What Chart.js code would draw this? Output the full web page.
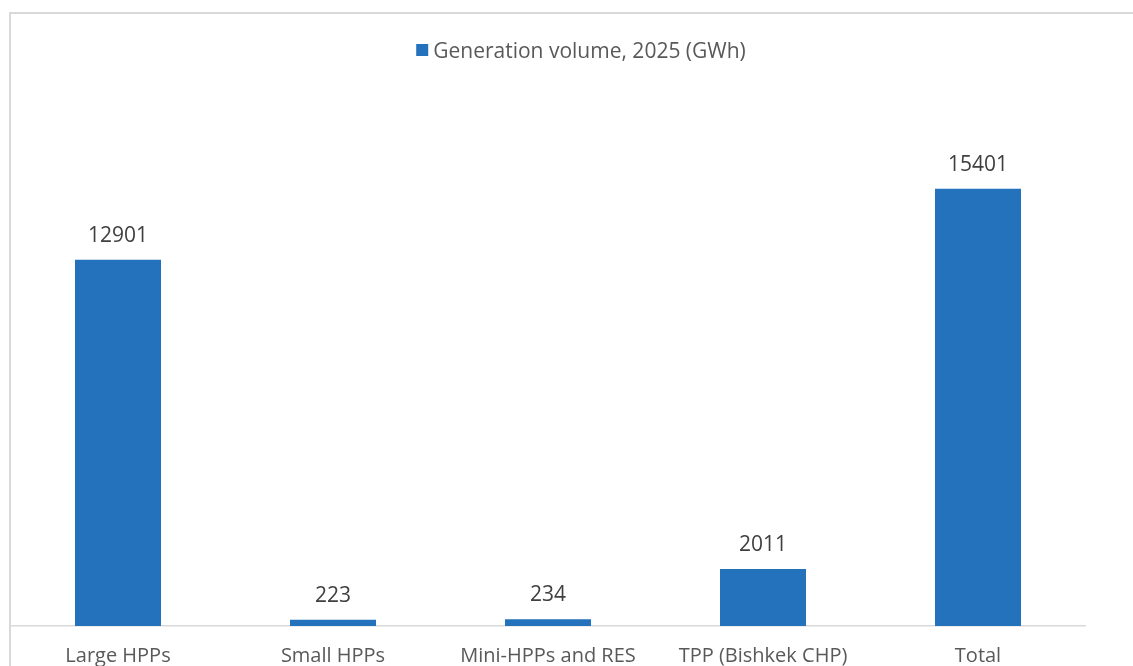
<!DOCTYPE html>
<html>
<head>
<meta charset="utf-8">
<script src="https://cdn.jsdelivr.net/npm/chart.js@4.4.1/dist/chart.umd.min.js"></script>
<style>
    html, body { margin: 0; padding: 0; background: #fff; overflow: hidden; }
    body { width: 1133px; height: 666px; position: relative; }
    #frame {
        position: absolute; left: 9px; top: 12px; width: 2000px; height: 2000px;
        border-top: 2px solid #d9d9d9; border-left: 2px solid #d9d9d9;
    }
    #chartBox { position: absolute; left: 0; top: 0; width: 1133px; height: 700px; }
    #legend {
        position: absolute; left: 581px; top: 38px; transform: translateX(-50%);
        display: flex; align-items: center; white-space: nowrap;
        font-family: "Open Sans", sans-serif; font-size: 21px; line-height: 24px; color: #595959;
    }
    #legend .box { width: 12px; height: 12px; margin-right: 5px; }
</style>
</head>
<body>
<div id="frame"></div>
<div id="chartBox"><canvas id="genChart" width="1133" height="700"></canvas></div>
<div id="legend"></div>

<script>
const categories = ["Large HPPs", "Small HPPs", "Mini-HPPs and RES", "TPP (Bishkek CHP)", "Total"];
const generation = [12901, 223, 234, 2011, 15401];
const seriesLabel = "Generation volume, 2025 (GWh)";
const barColor = "#2372bb";

// value labels above each bar
const valueLabels = {
    id: "valueLabels",
    afterDatasetsDraw(chart) {
        const ctx = chart.ctx;
        const meta = chart.getDatasetMeta(0);
        ctx.save();
        ctx.font = "21px 'Open Sans', sans-serif";
        ctx.fillStyle = "#404040";
        ctx.textAlign = "center";
        ctx.textBaseline = "middle";
        meta.data.forEach((bar, i) => {
            ctx.fillText(String(chart.data.datasets[0].data[i]), bar.x, bar.y - 24);
        });
        ctx.restore();
    }
};

const chart = new Chart(document.getElementById("genChart"), {
    type: "bar",
    data: {
        labels: categories,
        datasets: [{
            label: seriesLabel,
            data: generation,
            backgroundColor: barColor,
            barPercentage: 0.4,
            categoryPercentage: 1
        }]
    },
    options: {
        responsive: false,
        animation: false,
        layout: { padding: { top: 115, left: 10.5, right: 47.5, bottom: 0 } },
        plugins: {
            legend: { display: false },
            tooltip: { enabled: false }
        },
        scales: {
            x: {
                grid: { display: false, drawTicks: false },
                border: { display: true, color: "#d9d9d9", width: 1.5 },
                ticks: {
                    color: "#595959",
                    padding: 18,
                    font: { family: "'Open Sans', sans-serif", size: 20 }
                },
                afterFit(scale) { scale.height = 74; }
            },
            y: {
                display: false,
                min: 0,
                max: 18000
            }
        }
    },
    plugins: [valueLabels]
});

// html legend built from the dataset
const legendEl = document.getElementById("legend");
chart.data.datasets.forEach(ds => {
    const box = document.createElement("span");
    box.className = "box";
    box.style.background = ds.backgroundColor;
    const txt = document.createElement("span");
    txt.textContent = ds.label;
    legendEl.appendChild(box);
    legendEl.appendChild(txt);
});
</script>
</body>
</html>
